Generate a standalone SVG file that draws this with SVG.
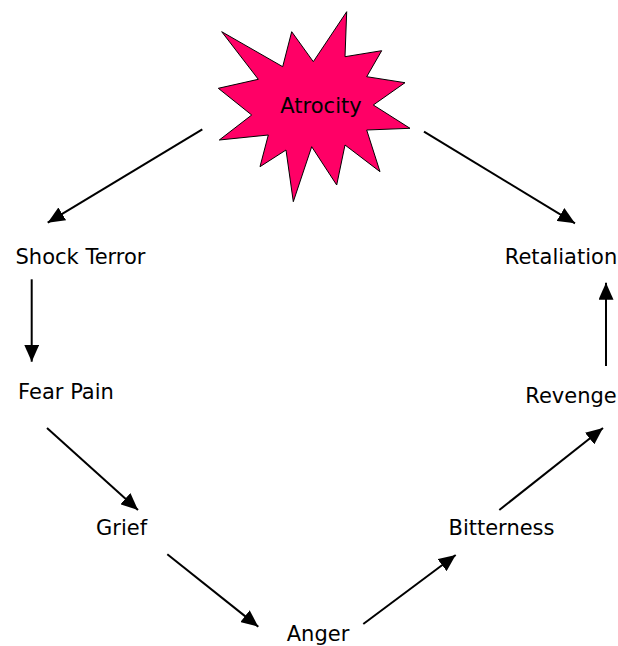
<svg xmlns="http://www.w3.org/2000/svg" width="618" height="646" viewBox="0 0 618 646">
<style>
text{font-family:"DejaVu Sans","Liberation Sans",sans-serif;font-size:21px;fill:#000;text-anchor:middle}
.c line{stroke:#000;stroke-width:2;marker-end:url(#ah)}
</style>
<defs>
<marker id="ah" markerUnits="userSpaceOnUse" markerWidth="19" markerHeight="15" refX="17" refY="7.5" orient="auto">
<path d="M0,0 L17,7.5 L0,15 Z" fill="#000"/>
</marker>
</defs>
<rect width="618" height="646" fill="#fff"/>
<g id="atrocity">
<polygon points="221.7,31.7 282.7,66.7 291.7,31.7 313.3,61.7 346.7,11.7 345,56.7 381.7,50.7 366.7,76.7 405,82.7 373.3,105 410,128.3 366.7,130 380,171.7 345,145 336.7,185 311.7,146.7 293.3,201.7 286,150 260,166.7 268.3,135 219.3,140 251.7,115 218.3,88.3 258.3,79.3" fill="#FF0066" stroke="#000" stroke-width="1"/>
<text x="321" y="113">Atrocity</text>
</g>
<g id="shock"><text x="80.5" y="264">Shock Terror</text></g>
<g id="fear"><text x="66" y="399">Fear Pain</text></g>
<g id="grief"><text x="121.5" y="535">Grief</text></g>
<g id="anger"><text x="318" y="641">Anger</text></g>
<g id="bitterness"><text x="501.5" y="535">Bitterness</text></g>
<g id="revenge"><text x="571" y="403">Revenge</text></g>
<g id="retaliation"><text x="561" y="264">Retaliation</text></g>
<g class="c" id="connectors">
<line x1="202.3" y1="129.3" x2="47.7" y2="222.7"/>
<line x1="31.7" y1="279.3" x2="31.7" y2="361.7"/>
<line x1="47" y1="428" x2="138" y2="510"/>
<line x1="167.3" y1="554.3" x2="258.3" y2="626.7"/>
<line x1="363.3" y1="624" x2="455.7" y2="555"/>
<line x1="499.3" y1="510" x2="603" y2="428"/>
<line x1="606" y1="366" x2="606" y2="282.7"/>
<line x1="424" y1="131.7" x2="575" y2="223.3"/>
</g>
</svg>
